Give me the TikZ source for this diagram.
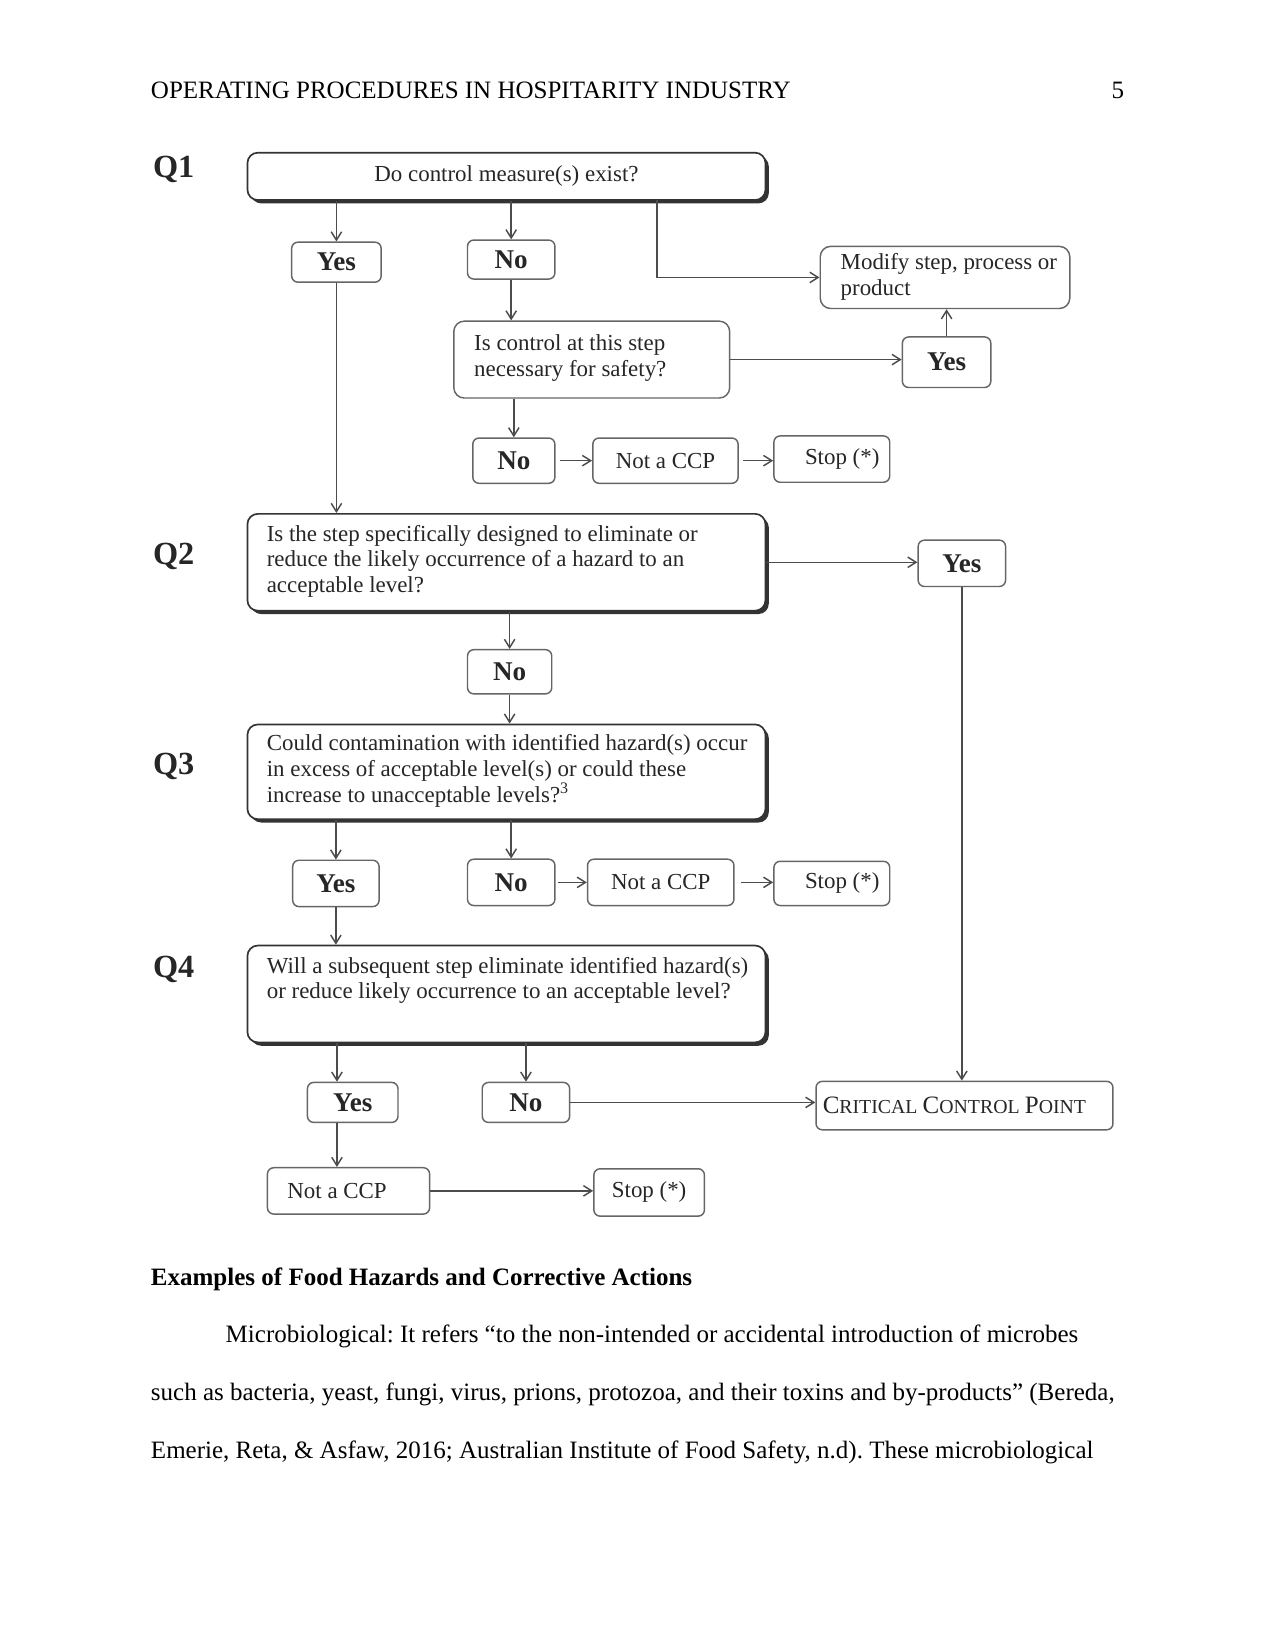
\documentclass[tikz,border=0pt]{standalone}
\usepackage{fontspec}
\setmainfont{Liberation Serif}
\usetikzlibrary{arrows.meta,shadows}
\frenchspacing
\newcommand\ccpsc[2]{{\fontsize{12}{14}\selectfont #1}{\fontsize{9.5}{11}\selectfont #2}}
% \mkbox{style}{name}{x1}{y1}{x2}{y2}{text}
\newcommand\mkbox[7]{\node[#1, minimum width={(#5-#3)*0.50535pt}, minimum height={(#6-#4)*0.50535pt}] (#2) at ({(#3+#5)/2},{(#4+#6)/2}) {#7};}
\tikzset{
  box/.style={draw=black!60, line width=0.7pt, rounded corners=3pt, inner sep=0pt, fill=white, text=black!85},
  bigbox/.style={box, rounded corners=5pt},
  qbox/.style={draw=black!80, line width=0.8pt, rounded corners=5pt, inner sep=0pt, fill=white, text=black!85,
    drop shadow={shadow xshift=1.6pt, shadow yshift=-1.6pt, fill=black!80, opacity=1}},
  yn/.style={box, font=\fontsize{13}{15}\selectfont\bfseries},
  sm/.style={box, font=\fontsize{11}{13}\selectfont},
  qtext/.style={anchor=west, align=left, inner sep=0pt, text=black!85, font=\fontsize{11}{12.3}\selectfont},
  qlab/.style={anchor=west, inner sep=0pt, font=\fontsize{15.5}{17}\selectfont\bfseries, text=black!85},
  arr/.style={draw=black!70, line width=0.7pt, -{Straight Barb[length=4pt,width=5pt]}},
  body/.style={anchor=base west, inner sep=0pt, font=\fontsize{12}{14}\selectfont},
}
\begin{document}
\begin{tikzpicture}[x=0.50535pt,y=-0.50535pt]
\useasboundingbox[fill=white] (0,0) rectangle (1211,1568);

% page text
\node[body] (hdr) at (143,94) {OPERATING PROCEDURES IN HOSPITARITY INDUSTRY};
\node[body, anchor=base east] (pg) at (1068,94) {5};

% labels
\node[qlab] (l1) at (145,161) {Q1};
\node[qlab] (l2) at (145,528) {Q2};
\node[qlab] (l3) at (145,728) {Q3};
\node[qlab] (l4) at (145,921) {Q4};

% Q1 level
\mkbox{qbox, font=\fontsize{11}{13}\selectfont}{q1}{235}{145}{727}{190}{Do control measure(s) exist?}
\mkbox{yn}{yes1}{277}{230}{362}{268}{Yes}
\mkbox{yn}{no1}{444}{228}{527}{265}{No}
\mkbox{bigbox}{mod}{779}{234}{1016}{293}{}
\node[qtext] (modt) at (798,263) {Modify step, process or\\product};
\mkbox{yn}{yesR}{857}{320}{941}{368}{Yes}
\mkbox{bigbox}{isc}{431}{305}{693}{378}{}
\node[qtext] (isct) at (450,340) {Is control at this step\\necessary for safety?};
\mkbox{yn}{no2}{449}{416}{527}{459}{No}
\mkbox{sm}{nc1}{563}{416}{701}{459}{Not a CCP}
\mkbox{sm}{st1}{735}{414}{845}{458}{\hspace{10pt}Stop (*)}

% Q2 level
\mkbox{qbox}{q2}{235}{488}{727}{580}{}
\node[qtext] (q2t) at (253,533) {Is the step specifically designed to eliminate or\\reduce the likely occurrence of a hazard to an\\acceptable level?};
\mkbox{yn}{yes3}{872}{513}{955}{557}{Yes}
\mkbox{yn}{no3}{444}{617}{524}{659}{No}

% Q3 level
\mkbox{qbox}{q3}{235}{688}{727}{778}{}
\node[qtext] (q3t) at (253,732) {Could contamination with identified hazard(s) occur\\in excess of acceptable level(s) or could these\\increase to unacceptable levels?\textsuperscript{3}};
\mkbox{yn}{yes4}{278}{817}{360}{861}{Yes}
\mkbox{yn}{no4}{444}{816}{527}{860}{No}
\mkbox{sm}{nc2}{558}{816}{697}{860}{Not a CCP}
\mkbox{sm}{st2}{735}{818}{845}{860}{\hspace{10pt}Stop (*)}

% Q4 level
\mkbox{qbox}{q4}{235}{898}{727}{990}{}
\node[qtext] (q4t) at (253,931) {Will a subsequent step eliminate identified hazard(s)\\or reduce likely occurrence to an acceptable level?};
\mkbox{yn}{yes5}{292}{1028}{378}{1066}{Yes}
\mkbox{yn}{no5}{458}{1028}{541}{1066}{No}
\mkbox{box}{ccp}{775}{1027}{1057}{1073}{}
\node[anchor=west, inner sep=0pt, text=black!85] (ccpt) at (781,1050) {\ccpsc{C}{RITICAL} \ccpsc{C}{ONTROL} \ccpsc{P}{OINT}};
\mkbox{sm}{nc3}{254}{1109}{408}{1153}{Not a CCP\rule{11pt}{0pt}}
\mkbox{sm}{st3}{564}{1110}{669}{1155}{Stop (*)}

\coordinate (c1) at (624,190);
\coordinate (c2) at (320,1000);

% connectors
\draw[arr] (q1.south -| yes1.north) -- (yes1.north);
\draw[arr] (q1.south -| no1.north) -- (no1.north);
\draw[arr] (c1) |- (mod.west);
\draw[arr] (no1.south) -- (no1.south |- isc.north);
\draw[arr] (isc.east) -- (isc.east -| yesR.west);
\draw[arr] (yesR.north) -- (yesR.north |- mod.south);
\draw[arr] (isc.south -| no2.north) -- (no2.north);
\draw[arr, shorten <=2pt] (no2.east) -- (nc1.west);
\draw[arr, shorten <=2pt] (nc1.east) -- (st1.west |- nc1.east);
\draw[arr] (yes1.south) -- (yes1.south |- q2.north);
\draw[arr] (q2.east) -- (q2.east -| yes3.west);
\draw[arr] (yes3.south) -- (yes3.south |- ccp.north);
\draw[arr] (q2.south -| no3.north) -- (no3.north);
\draw[arr] (no3.south) -- (no3.south |- q3.north);
\draw[arr] (q3.south -| yes4.north) -- (yes4.north);
\draw[arr] (q3.south -| no4.north) -- (no4.north);
\draw[arr, shorten <=1pt] (no4.east) -- (nc2.west);
\draw[arr, shorten <=3pt] (nc2.east) -- (st2.west |- nc2.east);
\draw[arr] (yes4.south) -- (yes4.south |- q4.north);
\draw[arr] (q4.south -| c2) -- (c2 |- yes5.north);
\draw[arr] (q4.south -| no5.north) -- (no5.north);
\draw[arr] (no5.east) -- (no5.east -| ccp.west);
\draw[arr] (c2 |- yes5.south) -- (c2 |- nc3.north);
\draw[arr] (nc3.east) -- (st3.west |- nc3.east);

% body text
\node[body, font=\fontsize{12}{14}\selectfont\bfseries] (head) at (143,1221) {Examples of Food Hazards and Corrective Actions};
\node[body] (p1) at (214,1275) {Microbiological: It refers “to the non-intended or accidental introduction of microbes};
\node[body] (p2) at (143,1330) {such as bacteria, yeast, fungi, virus, prions, protozoa, and their toxins and by-products” (Bereda,};
\node[body] (p3) at (143,1385) {Emerie, Reta, \& Asfaw, 2016; Australian Institute of Food Safety, n.d). These microbiological};
\end{tikzpicture}
\end{document}
